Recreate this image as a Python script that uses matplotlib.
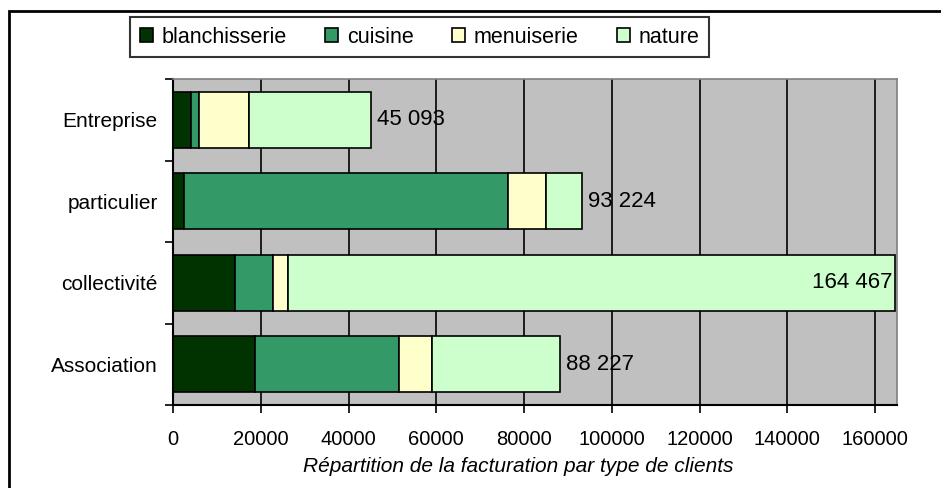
import matplotlib
matplotlib.use("Agg")
import matplotlib.pyplot as plt
from matplotlib.patches import Rectangle
import numpy as np

plt.rcParams["font.family"] = ["Liberation Sans", "DejaVu Sans"]

categories = ["Association", "collectivité", "particulier", "Entreprise"]
series = ["blanchisserie", "cuisine", "menuiserie", "nature"]
colors = ["#003300", "#339966", "#FFFFCC", "#CCFFCC"]

blanchisserie = [18800, 14200, 2400, 4150]
cuisine = [32700, 8700, 73900, 1850]
menuiserie = [7450, 3200, 8600, 11400]
nature = [29277, 138367, 8324, 27693]
totals = [88227, 164467, 93224, 45093]
total_labels = ["88 227", "164 467", "93 224", "45 093"]

xticks = [0, 20000, 40000, 60000, 80000, 100000, 120000, 140000, 160000]

W, H = 941, 488
fig = plt.figure(figsize=(W / 100, H / 100), dpi=100)
ax = fig.add_axes([173 / W, 1 - 405 / H, (897 - 173) / W, (405 - 79) / H])
ax.set_facecolor("#C0C0C0")

y = np.arange(len(categories))
left = np.zeros(len(categories))
for name, vals, col in zip(series, [blanchisserie, cuisine, menuiserie, nature], colors):
    ax.barh(y, vals, left=left, height=0.69, color=col, edgecolor="black",
            linewidth=1.2, label=name, zorder=3)
    left += np.array(vals)

for yi, tot, lab in zip(y, totals, total_labels):
    if tot > 150000:
        ax.text(tot - 600, yi, lab, ha="right", va="center", fontsize=16, zorder=4)
    else:
        ax.text(tot + 1400, yi, lab, ha="left", va="center", fontsize=16, zorder=4)

ax.set_xlim(0, 165000)
ax.set_ylim(-0.5, len(categories) - 0.5)
ax.set_xticks(xticks)
ax.set_xticklabels([str(t) for t in xticks], fontsize=14.5)
ax.grid(axis="x", color="black", linewidth=1.2, zorder=1)
ax.set_axisbelow(True)

ax.set_yticks(y)
ax.set_yticklabels(categories, fontsize=15)
ax.set_yticks(np.arange(-0.5, len(categories), 1), minor=True)
ax.tick_params(axis="y", which="major", length=0, pad=11)
ax.tick_params(axis="y", which="minor", length=6, width=1.2, direction="out")
ax.tick_params(axis="x", length=6, width=1.2, direction="out", pad=12)

for s in ["left", "bottom"]:
    ax.spines[s].set_color("black")
    ax.spines[s].set_linewidth(1.5)
for s in ["top", "right"]:
    ax.spines[s].set_color("#808080")
    ax.spines[s].set_linewidth(1.2)

fig.text(518 / W, 1 - 467 / H, "Répartition de la facturation par type de clients",
         ha="center", va="center", fontsize=15, style="italic")

leg = fig.legend(loc="upper left", bbox_to_anchor=(130 / W, 1 - 17 / H), ncol=4,
                 fontsize=15.5, frameon=True, fancybox=False, edgecolor="black",
                 handlelength=0.6, handleheight=0.6, handletextpad=0.4,
                 columnspacing=1.8, borderpad=0.45, borderaxespad=0)
leg.get_frame().set_linewidth(1.5)

fig.patches.append(Rectangle((9 / W, -0.05), 1.1, 1 - 11 / H + 0.05,
                             transform=fig.transFigure, fill=False,
                             edgecolor="black", linewidth=2))

fig.savefig("out.png", dpi=100)
